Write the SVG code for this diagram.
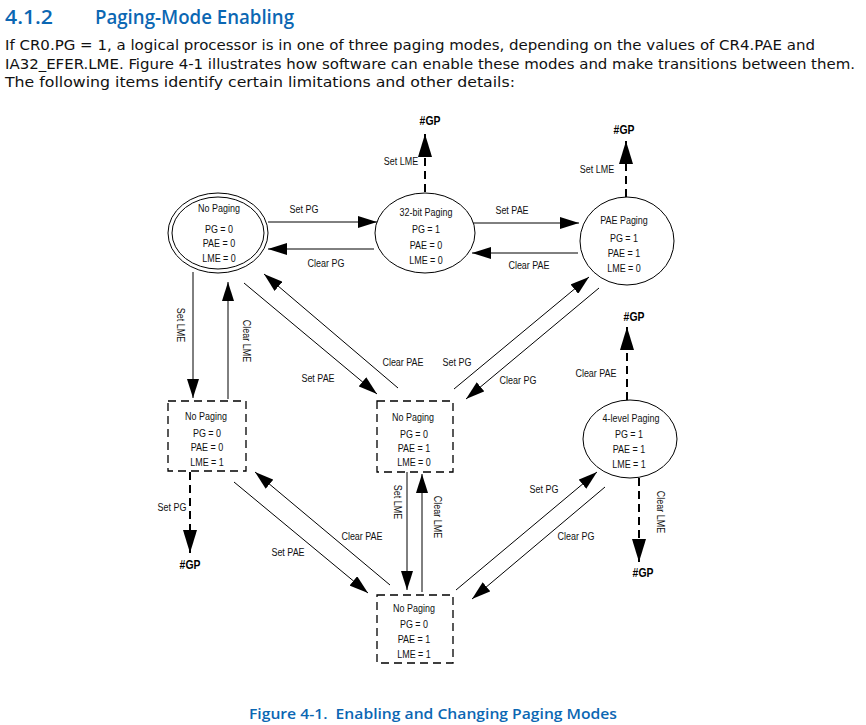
<svg xmlns="http://www.w3.org/2000/svg" width="866" height="725" viewBox="0 0 866 725">
<style>
.h{font-family:"Open Sans","DejaVu Sans Condensed","Liberation Sans",sans-serif;fill:#0b67b3}
.b{font-family:"DejaVu Sans Condensed","Liberation Sans",sans-serif;font-size:14px;fill:#111}
.n{font-family:"Liberation Sans",Arial,sans-serif;font-size:11.5px;fill:#111;text-anchor:middle}
.gp{font-family:"Liberation Sans",Arial,sans-serif;font-size:13px;font-weight:bold;fill:#000;text-anchor:middle}
.s{stroke:#000;stroke-width:1;fill:none}
.d{stroke:#000;stroke-width:2;fill:none;stroke-dasharray:8 5}
.box{stroke:#000;stroke-width:1.3;fill:none;stroke-dasharray:8 5}
.el{stroke:#000;stroke-width:1;fill:#fff}
</style>
<defs>
<marker id="ah" markerUnits="userSpaceOnUse" markerWidth="20" markerHeight="12" refX="19" refY="6" orient="auto">
<path d="M0,0 L19,6 L0,12 z" fill="#000"/>
</marker>
<marker id="ahb" markerUnits="userSpaceOnUse" markerWidth="24" markerHeight="14" refX="23" refY="7" orient="auto">
<path d="M0,0 L23,7 L0,14 z" fill="#000"/>
</marker>
</defs>

<g id="header">
<text class="h" x="5" y="24" font-size="20" font-weight="600" textLength="48" lengthAdjust="spacingAndGlyphs">4.1.2</text>
<text class="h" x="95" y="24" font-size="20" font-weight="600" textLength="199" lengthAdjust="spacingAndGlyphs">Paging-Mode Enabling</text>
<text class="b" x="5" y="50" textLength="810" lengthAdjust="spacingAndGlyphs">If CR0.PG = 1, a logical processor is in one of three paging modes, depending on the values of CR4.PAE and</text>
<text class="b" x="5" y="69" textLength="850" lengthAdjust="spacingAndGlyphs">IA32_EFER.LME. Figure 4-1 illustrates how software can enable these modes and make transitions between them.</text>
<text class="b" x="5" y="87" textLength="510" lengthAdjust="spacingAndGlyphs">The following items identify certain limitations and other details:</text>
</g>

<g id="connectors">
<line class="s" x1="268" y1="222" x2="377" y2="222" marker-end="url(#ah)"/>
<line class="s" x1="374" y1="249" x2="268" y2="249" marker-end="url(#ah)"/>
<line class="s" x1="472" y1="223" x2="579" y2="223" marker-end="url(#ah)"/>
<line class="s" x1="578" y1="253" x2="472" y2="253" marker-end="url(#ah)"/>
<line class="s" x1="193" y1="272" x2="193" y2="398" marker-end="url(#ah)"/>
<line class="s" x1="228" y1="399" x2="228" y2="282" marker-end="url(#ah)"/>
<line class="s" x1="244" y1="283" x2="377" y2="394" marker-end="url(#ah)"/>
<line class="s" x1="398" y1="388" x2="264" y2="274" marker-end="url(#ah)"/>
<line class="s" x1="454" y1="389" x2="589" y2="277" marker-end="url(#ah)"/>
<line class="s" x1="599" y1="288" x2="466" y2="399" marker-end="url(#ah)"/>
<line class="s" x1="407" y1="472" x2="407" y2="590" marker-end="url(#ah)"/>
<line class="s" x1="422" y1="592" x2="422" y2="474" marker-end="url(#ah)"/>
<line class="s" x1="234" y1="482" x2="368" y2="593" marker-end="url(#ah)"/>
<line class="s" x1="390" y1="585" x2="255" y2="472" marker-end="url(#ah)"/>
<line class="s" x1="456" y1="590" x2="597" y2="472" marker-end="url(#ah)"/>
<line class="s" x1="605" y1="487" x2="472" y2="599" marker-end="url(#ah)"/>
<line class="d" x1="425" y1="192" x2="425" y2="134" marker-end="url(#ahb)"/>
<line class="d" x1="626" y1="197" x2="626" y2="141" marker-end="url(#ahb)"/>
<line class="d" x1="627" y1="400" x2="627" y2="327" marker-end="url(#ahb)"/>
<line class="d" x1="639" y1="478" x2="639" y2="562" marker-end="url(#ahb)"/>
<line class="d" x1="190" y1="472" x2="190" y2="553" marker-end="url(#ahb)"/>
</g>

<g id="labels">
<text class="n" transform="translate(304,213) scale(0.78,1)">Set PG</text>
<text class="n" transform="translate(326,267) scale(0.78,1)">Clear PG</text>
<text class="n" transform="translate(512,214) scale(0.78,1)">Set PAE</text>
<text class="n" transform="translate(529,269) scale(0.78,1)">Clear PAE</text>
<text class="n" transform="translate(401,165) scale(0.78,1)">Set LME</text>
<text class="n" transform="translate(597,173) scale(0.78,1)">Set LME</text>
<text class="n" transform="translate(177,325) rotate(90) scale(0.78,1)">Set LME</text>
<text class="n" transform="translate(243,341) rotate(90) scale(0.78,1)">Clear LME</text>
<text class="n" transform="translate(318,382) scale(0.78,1)">Set PAE</text>
<text class="n" transform="translate(403,366) scale(0.78,1)">Clear PAE</text>
<text class="n" transform="translate(457,366) scale(0.78,1)">Set PG</text>
<text class="n" transform="translate(518,384) scale(0.78,1)">Clear PG</text>
<text class="n" transform="translate(596,377) scale(0.78,1)">Clear PAE</text>
<text class="n" transform="translate(394,502) rotate(90) scale(0.78,1)">Set LME</text>
<text class="n" transform="translate(434,517) rotate(90) scale(0.78,1)">Clear LME</text>
<text class="n" transform="translate(172,511) scale(0.78,1)">Set PG</text>
<text class="n" transform="translate(288,556) scale(0.78,1)">Set PAE</text>
<text class="n" transform="translate(362,540) scale(0.78,1)">Clear PAE</text>
<text class="n" transform="translate(544,493) scale(0.78,1)">Set PG</text>
<text class="n" transform="translate(576,540) scale(0.78,1)">Clear PG</text>
<text class="n" transform="translate(657,512) rotate(90) scale(0.78,1)">Clear LME</text>
<text class="gp" transform="translate(430,125) scale(0.8,1)">#GP</text>
<text class="gp" transform="translate(624,134) scale(0.8,1)">#GP</text>
<text class="gp" transform="translate(634,321) scale(0.8,1)">#GP</text>
<text class="gp" transform="translate(643,577) scale(0.8,1)">#GP</text>
<text class="gp" transform="translate(190,569) scale(0.8,1)">#GP</text>
</g>

<g id="n1">
<ellipse class="el" cx="218" cy="233" rx="50" ry="40"/>
<ellipse class="s" cx="218" cy="233" rx="46" ry="36"/>
<text class="n" transform="translate(219,212) scale(0.78,1)">No Paging</text>
<text class="n" transform="translate(219,233) scale(0.78,1)">PG = 0</text>
<text class="n" transform="translate(219,247) scale(0.78,1)">PAE = 0</text>
<text class="n" transform="translate(219,262) scale(0.78,1)">LME = 0</text>
</g>

<g id="n2">
<ellipse class="el" cx="425" cy="233" rx="50" ry="40"/>
<text class="n" transform="translate(426,216) scale(0.78,1)">32-bit Paging</text>
<text class="n" transform="translate(426,233) scale(0.78,1)">PG = 1</text>
<text class="n" transform="translate(426,249) scale(0.78,1)">PAE = 0</text>
<text class="n" transform="translate(426,264) scale(0.78,1)">LME = 0</text>
</g>

<g id="n3">
<ellipse class="el" cx="627" cy="241" rx="47" ry="44"/>
<text class="n" transform="translate(624,224) scale(0.78,1)">PAE Paging</text>
<text class="n" transform="translate(624,242) scale(0.78,1)">PG = 1</text>
<text class="n" transform="translate(624,257) scale(0.78,1)">PAE = 1</text>
<text class="n" transform="translate(624,272) scale(0.78,1)">LME = 0</text>
</g>

<g id="n4">
<rect class="box" x="168" y="401" width="78" height="70"/>
<text class="n" transform="translate(206,420) scale(0.78,1)">No Paging</text>
<text class="n" transform="translate(207,437) scale(0.78,1)">PG = 0</text>
<text class="n" transform="translate(207,451) scale(0.78,1)">PAE = 0</text>
<text class="n" transform="translate(207,466) scale(0.78,1)">LME = 1</text>
</g>

<g id="n5">
<rect class="box" x="377" y="401" width="76" height="71"/>
<text class="n" transform="translate(413,421) scale(0.78,1)">No Paging</text>
<text class="n" transform="translate(414,438) scale(0.78,1)">PG = 0</text>
<text class="n" transform="translate(414,452) scale(0.78,1)">PAE = 1</text>
<text class="n" transform="translate(414,466) scale(0.78,1)">LME = 0</text>
</g>

<g id="n6">
<rect class="box" x="377" y="595" width="76" height="68"/>
<text class="n" transform="translate(414,612) scale(0.78,1)">No Paging</text>
<text class="n" transform="translate(414,628) scale(0.78,1)">PG = 0</text>
<text class="n" transform="translate(414,643) scale(0.78,1)">PAE = 1</text>
<text class="n" transform="translate(414,658) scale(0.78,1)">LME = 1</text>
</g>

<g id="n7">
<ellipse class="el" cx="630" cy="439" rx="47" ry="39"/>
<text class="n" transform="translate(631,422) scale(0.78,1)">4-level Paging</text>
<text class="n" transform="translate(629,438) scale(0.78,1)">PG = 1</text>
<text class="n" transform="translate(629,453) scale(0.78,1)">PAE = 1</text>
<text class="n" transform="translate(629,468) scale(0.78,1)">LME = 1</text>
</g>

<g id="caption">
<text class="h" x="249" y="719" font-size="15" font-weight="600" textLength="368" lengthAdjust="spacingAndGlyphs" xml:space="preserve">Figure 4-1.  Enabling and Changing Paging Modes</text>
</g>
</svg>
